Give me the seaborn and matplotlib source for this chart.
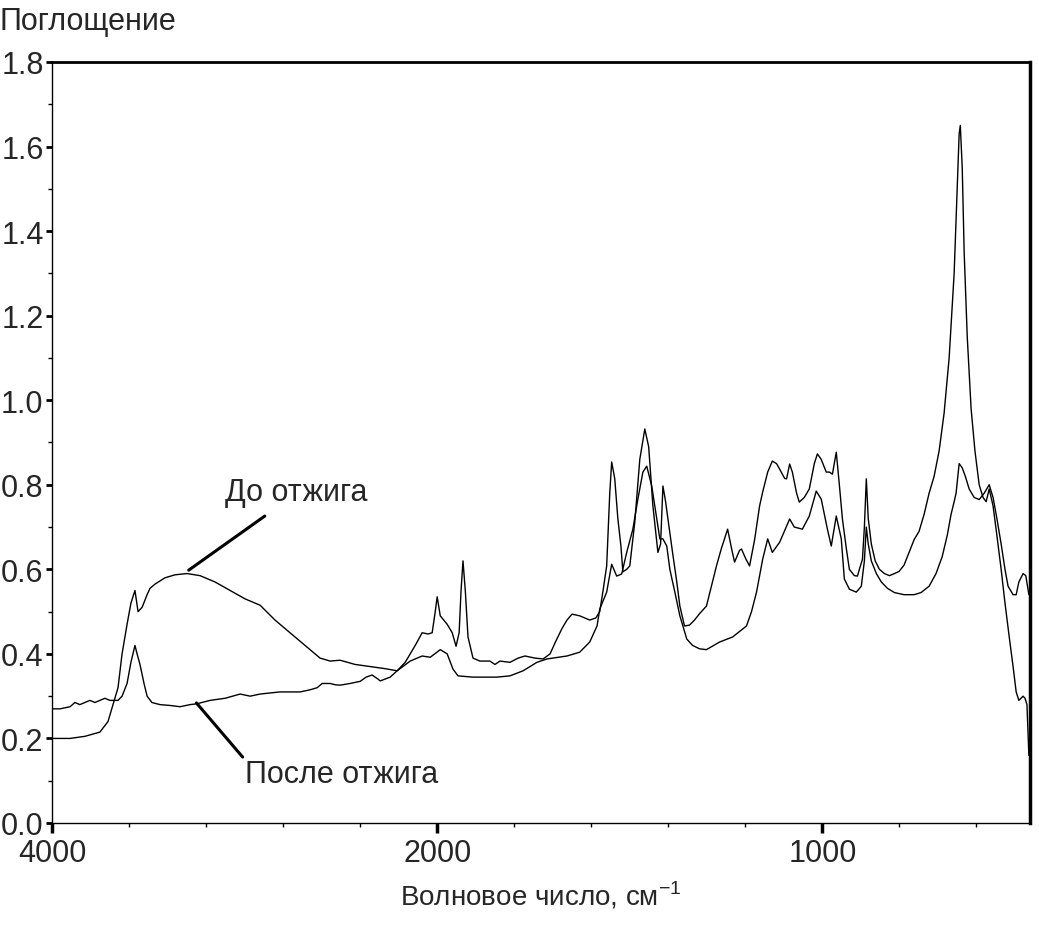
import numpy as np
import pandas as pd
import matplotlib
matplotlib.use("Agg")
import matplotlib.pyplot as plt
from matplotlib.ticker import FixedLocator, MultipleLocator, FormatStrFormatter
import seaborn as sns

# IR absorbance spectra of the sample before and after annealing
wn_before = [4000, 3906, 3829, 3751, 3709, 3683, 3657, 3636, 3610, 3590, 3569, 3553, 3532, 3506,
             3491, 3465, 3413, 3361, 3299, 3231, 3153, 3075, 2997, 2919, 2842, 2764, 2686, 2608,
             2556, 2504, 2426, 2348, 2270, 2208, 2166, 2140, 2114, 2078, 2047, 2026, 2010, 2000,
             1992, 1974, 1961, 1951, 1943, 1938, 1933, 1927, 1920, 1907, 1889, 1863, 1850, 1837,
             1811, 1790, 1772, 1746, 1725, 1707, 1692, 1676, 1663, 1650, 1630, 1604, 1588, 1578,
             1570, 1560, 1552, 1547, 1539, 1531, 1523, 1518, 1508, 1500, 1487, 1474, 1461, 1451,
             1440, 1427, 1420, 1414, 1407, 1402, 1389, 1378, 1370, 1358, 1345, 1332, 1319, 1301,
             1288, 1275, 1262, 1246, 1236, 1228, 1215, 1210, 1199, 1189, 1176, 1163, 1155, 1142,
             1130, 1119, 1111, 1098, 1093, 1085, 1078, 1067, 1060, 1047, 1034, 1021, 1013, 1003,
             990, 982, 974, 964, 956, 948, 938, 930, 917, 909, 904, 896, 891, 886, 881, 873, 863,
             852, 839, 826, 813, 801, 788, 775, 762, 749, 736, 723, 710, 697, 684, 671, 658, 650,
             645, 642, 637, 632, 624, 614, 604, 593, 583, 575, 567, 557, 547, 536, 526, 515, 505,
             497, 490, 479, 474, 469, 464]
abs_before = [0.200, 0.200, 0.205, 0.215, 0.240, 0.280, 0.320, 0.400, 0.470, 0.520, 0.550, 0.500,
              0.510, 0.540, 0.555, 0.565, 0.580, 0.587, 0.590, 0.585, 0.570, 0.550, 0.530, 0.515,
              0.480, 0.450, 0.420, 0.390, 0.383, 0.385, 0.375, 0.370, 0.365, 0.360, 0.380, 0.400,
              0.420, 0.450, 0.447, 0.450, 0.500, 0.535, 0.490, 0.470, 0.450, 0.418, 0.450, 0.550,
              0.620, 0.550, 0.440, 0.390, 0.383, 0.383, 0.375, 0.383, 0.380, 0.390, 0.395, 0.390,
              0.388, 0.400, 0.430, 0.460, 0.480, 0.494, 0.490, 0.480, 0.485, 0.500, 0.546, 0.608,
              0.780, 0.854, 0.814, 0.720, 0.655, 0.594, 0.600, 0.608, 0.712, 0.860, 0.932, 0.890,
              0.750, 0.640, 0.660, 0.797, 0.760, 0.726, 0.640, 0.570, 0.513, 0.466, 0.468, 0.480,
              0.495, 0.513, 0.560, 0.608, 0.650, 0.695, 0.650, 0.617, 0.645, 0.648, 0.625, 0.608,
              0.670, 0.750, 0.783, 0.830, 0.856, 0.850, 0.837, 0.815, 0.814, 0.849, 0.830, 0.780,
              0.759, 0.770, 0.790, 0.850, 0.873, 0.860, 0.830, 0.830, 0.825, 0.877, 0.800, 0.719,
              0.650, 0.600, 0.585, 0.584, 0.600, 0.624, 0.700, 0.814, 0.720, 0.660, 0.620, 0.600,
              0.590, 0.585, 0.590, 0.595, 0.610, 0.640, 0.670, 0.690, 0.730, 0.780, 0.820, 0.880,
              0.970, 1.100, 1.300, 1.500, 1.630, 1.650, 1.550, 1.350, 1.150, 0.980, 0.880, 0.800,
              0.770, 0.760, 0.790, 0.750, 0.680, 0.600, 0.520, 0.440, 0.370, 0.310, 0.290, 0.300,
              0.295, 0.280, 0.160]

wn_after = [4000, 3958, 3906, 3881, 3855, 3829, 3803, 3777, 3751, 3725, 3699, 3673, 3657, 3636,
            3610, 3590, 3569, 3558, 3543, 3522, 3506, 3481, 3439, 3387, 3335, 3283, 3247, 3179,
            3101, 3023, 2971, 2919, 2816, 2712, 2660, 2623, 2597, 2556, 2530, 2504, 2452, 2400,
            2369, 2338, 2306, 2296, 2244, 2208, 2140, 2078, 2036, 1992, 1974, 1959, 1946, 1907,
            1845, 1811, 1777, 1741, 1715, 1663, 1630, 1604, 1585, 1578, 1560, 1547, 1534, 1521,
            1508, 1492, 1479, 1466, 1456, 1443, 1435, 1422, 1414, 1404, 1396, 1383, 1370, 1352,
            1337, 1319, 1301, 1267, 1233, 1197, 1184, 1171, 1155, 1142, 1130, 1111, 1085, 1073,
            1052, 1034, 1016, 1003, 987, 977, 964, 951, 943, 930, 912, 899, 891, 886, 881, 873,
            860, 847, 831, 813, 788, 762, 744, 723, 705, 689, 676, 666, 658, 653, 645, 637, 629,
            619, 606, 593, 580, 567, 557, 547, 536, 526, 518, 505, 497, 490, 479, 472, 464]
abs_after = [0.270, 0.270, 0.275, 0.285, 0.280, 0.285, 0.290, 0.285, 0.290, 0.295, 0.290, 0.290,
             0.290, 0.300, 0.330, 0.380, 0.420, 0.400, 0.375, 0.330, 0.300, 0.285, 0.280, 0.278,
             0.275, 0.280, 0.282, 0.290, 0.295, 0.305, 0.300, 0.305, 0.310, 0.310, 0.315, 0.320,
             0.330, 0.330, 0.327, 0.326, 0.330, 0.335, 0.345, 0.350, 0.340, 0.336, 0.345, 0.360,
             0.383, 0.395, 0.392, 0.410, 0.400, 0.364, 0.348, 0.345, 0.345, 0.348, 0.360, 0.380,
             0.388, 0.395, 0.404, 0.428, 0.466, 0.506, 0.546, 0.612, 0.584, 0.589, 0.640, 0.695,
             0.766, 0.830, 0.844, 0.797, 0.750, 0.672, 0.672, 0.655, 0.600, 0.546, 0.490, 0.435,
             0.420, 0.412, 0.410, 0.428, 0.440, 0.466, 0.500, 0.546, 0.624, 0.672, 0.640, 0.664,
             0.719, 0.700, 0.695, 0.726, 0.785, 0.766, 0.695, 0.655, 0.726, 0.672, 0.577, 0.553,
             0.546, 0.560, 0.620, 0.700, 0.660, 0.620, 0.590, 0.570, 0.555, 0.545, 0.540, 0.540,
             0.545, 0.560, 0.590, 0.630, 0.680, 0.730, 0.760, 0.780, 0.850, 0.840, 0.820, 0.790,
             0.770, 0.765, 0.780, 0.800, 0.770, 0.720, 0.660, 0.600, 0.560, 0.540, 0.540, 0.570,
             0.590, 0.585, 0.540]

states = ["До отжига", "После отжига"]

df = pd.concat([
    pd.DataFrame({"wn": wn_before, "A": abs_before, "state": states[0]}),
    pd.DataFrame({"wn": wn_after, "A": abs_after, "state": states[1]}),
], ignore_index=True)

sns.set_style("ticks")
plt.rcParams["font.family"] = ["Liberation Sans", "DejaVu Sans"]
plt.rcParams["mathtext.fontset"] = "custom"
plt.rcParams["mathtext.rm"] = "Liberation Sans"

fig = plt.figure(figsize=(10.39, 9.37), dpi=100)
ax = fig.add_axes([0.050, 0.1206, 0.941, 0.8122])


# spectrometer abscissa: scale doubles below 2000 cm-1
def fwd(x):
    x = np.asarray(x, dtype=float)
    return np.where(x >= 2000, x, 2 * x - 2000)


def inv(u):
    u = np.asarray(u, dtype=float)
    return np.where(u >= 2000, u, (u + 2000) / 2)


ax.set_xscale("function", functions=(fwd, inv))

sns.lineplot(data=df, x="wn", y="A", hue="state", units="state", estimator=None,
             sort=False, palette=["black", "black"], legend=False, lw=1.0, ax=ax)

ax.set_xlim(4000, 462)
ax.set_ylim(0, 1.8)

ax.xaxis.set_major_locator(FixedLocator([4000, 2000, 1000]))
ax.xaxis.set_minor_locator(FixedLocator([3600, 3200, 2800, 2400, 1800, 1600, 1400, 1200, 800, 600]))
ax.xaxis.set_major_formatter(FormatStrFormatter("%d"))
ax.yaxis.set_major_locator(MultipleLocator(0.2))
ax.yaxis.set_minor_locator(MultipleLocator(0.1))
ax.yaxis.set_major_formatter(FormatStrFormatter("%.1f"))

ax.tick_params(axis="both", which="major", direction="out", length=7, width=2.5,
               labelsize=22, color="black", pad=4)
ax.tick_params(axis="both", which="minor", direction="out", length=3, width=1, color="black")
ax.tick_params(axis="y", which="major", length=4, width=2, pad=2)

for side, lw in [("left", 1.0), ("bottom", 1.0), ("top", 2.0), ("right", 2.5)]:
    ax.spines[side].set_visible(True)
    ax.spines[side].set_linewidth(lw)
    ax.spines[side].set_color("black")

ax.set_xlabel("Волновое число, см$^{\\mathregular{-1}}$", fontsize=20, labelpad=8)
ax.set_ylabel("")
fig.text(0.0, 1 - 22 / 937, "Поглощение", fontsize=22, ha="left", va="center")

# leader lines and labels for the two spectra
ax.annotate("", xy=(3290, 0.598), xytext=(2895, 0.726),
            arrowprops=dict(arrowstyle="-", lw=2.2, color="black", shrinkA=0, shrinkB=0))
ax.text(3101, 0.783, states[0], fontsize=22, ha="left", va="center")

ax.annotate("", xy=(3250, 0.284), xytext=(3010, 0.156),
            arrowprops=dict(arrowstyle="-", lw=2.2, color="black", shrinkA=0, shrinkB=0))
ax.text(2997, 0.116, states[1], fontsize=22, ha="left", va="center")

fig.savefig("out.png", dpi=100)
